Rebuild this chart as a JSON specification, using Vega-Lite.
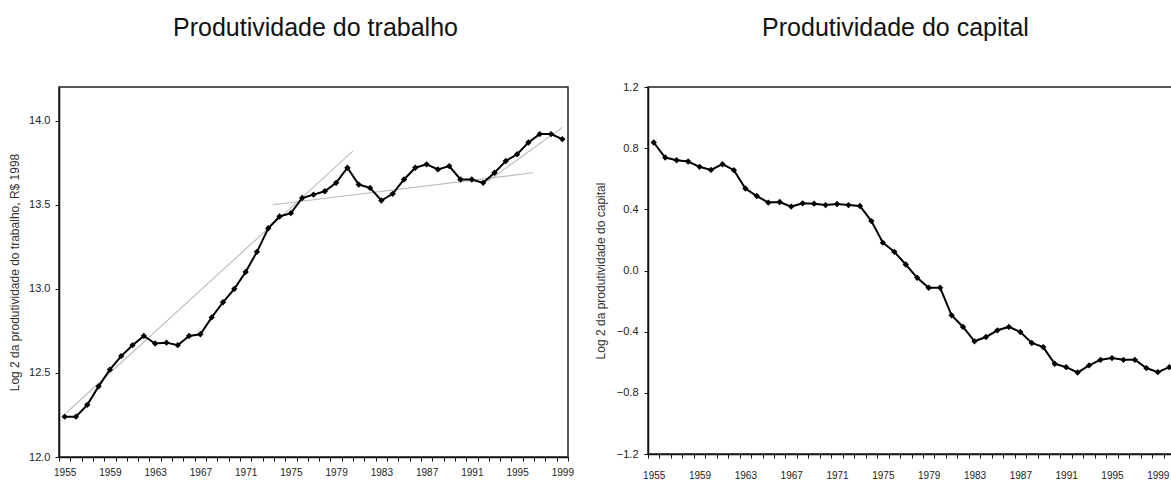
{
  "$schema": "https://vega.github.io/schema/vega-lite/v6.json",
  "background": "white",
  "padding": {"left": 7, "top": 15, "right": 0, "bottom": 0},
  "spacing": 18,
  "config": {
    "view": {"stroke": "#222", "strokeWidth": 1.5},
    "font": "Liberation Sans",
    "axis": {
      "grid": false,
      "domainColor": "#111",
      "domainWidth": 1.5,
      "tickColor": "#111",
      "tickSize": 4,
      "tickWidth": 1,
      "labelFont": "Liberation Sans",
      "labelColor": "#222",
      "labelFontSize": 10,
      "titleFont": "Liberation Sans",
      "titleFontWeight": "normal",
      "titleColor": "#333",
      "titleFontSize": 12
    },
    "title": {"font": "Liberation Sans", "fontSize": 25, "fontWeight": "normal", "color": "#111"}
  },
  "datasets": {
    "trab": [
      {"ano": 1955, "v": 12.24}, {"ano": 1956, "v": 12.24}, {"ano": 1957, "v": 12.31}, {"ano": 1958, "v": 12.42},
      {"ano": 1959, "v": 12.52}, {"ano": 1960, "v": 12.6}, {"ano": 1961, "v": 12.665}, {"ano": 1962, "v": 12.72},
      {"ano": 1963, "v": 12.675}, {"ano": 1964, "v": 12.68}, {"ano": 1965, "v": 12.665}, {"ano": 1966, "v": 12.72},
      {"ano": 1967, "v": 12.73}, {"ano": 1968, "v": 12.83}, {"ano": 1969, "v": 12.92}, {"ano": 1970, "v": 13.0},
      {"ano": 1971, "v": 13.1}, {"ano": 1972, "v": 13.22}, {"ano": 1973, "v": 13.36}, {"ano": 1974, "v": 13.43},
      {"ano": 1975, "v": 13.45}, {"ano": 1976, "v": 13.54}, {"ano": 1977, "v": 13.56}, {"ano": 1978, "v": 13.58},
      {"ano": 1979, "v": 13.63}, {"ano": 1980, "v": 13.72}, {"ano": 1981, "v": 13.62}, {"ano": 1982, "v": 13.6},
      {"ano": 1983, "v": 13.525}, {"ano": 1984, "v": 13.565}, {"ano": 1985, "v": 13.65}, {"ano": 1986, "v": 13.72},
      {"ano": 1987, "v": 13.74}, {"ano": 1988, "v": 13.71}, {"ano": 1989, "v": 13.73}, {"ano": 1990, "v": 13.65},
      {"ano": 1991, "v": 13.65}, {"ano": 1992, "v": 13.63}, {"ano": 1993, "v": 13.69}, {"ano": 1994, "v": 13.76},
      {"ano": 1995, "v": 13.8}, {"ano": 1996, "v": 13.87}, {"ano": 1997, "v": 13.92}, {"ano": 1998, "v": 13.92},
      {"ano": 1999, "v": 13.89}
    ],
    "tend": [
      {"seg": "a", "ano": 1955.1, "v": 12.26}, {"seg": "a", "ano": 1980.5, "v": 13.82},
      {"seg": "b", "ano": 1973.4, "v": 13.5}, {"seg": "b", "ano": 1996.4, "v": 13.69},
      {"seg": "c", "ano": 1992.4, "v": 13.64}, {"seg": "c", "ano": 1999.0, "v": 13.96}
    ],
    "cap": [
      {"ano": 1955, "v": 0.837}, {"ano": 1956, "v": 0.739}, {"ano": 1957, "v": 0.721}, {"ano": 1958, "v": 0.713},
      {"ano": 1959, "v": 0.678}, {"ano": 1960, "v": 0.658}, {"ano": 1961, "v": 0.695}, {"ano": 1962, "v": 0.656},
      {"ano": 1963, "v": 0.536}, {"ano": 1964, "v": 0.487}, {"ano": 1965, "v": 0.444}, {"ano": 1966, "v": 0.448},
      {"ano": 1967, "v": 0.418}, {"ano": 1968, "v": 0.439}, {"ano": 1969, "v": 0.437}, {"ano": 1970, "v": 0.428},
      {"ano": 1971, "v": 0.435}, {"ano": 1972, "v": 0.428}, {"ano": 1973, "v": 0.422}, {"ano": 1974, "v": 0.323},
      {"ano": 1975, "v": 0.182}, {"ano": 1976, "v": 0.122}, {"ano": 1977, "v": 0.039}, {"ano": 1978, "v": -0.048},
      {"ano": 1979, "v": -0.113}, {"ano": 1980, "v": -0.113}, {"ano": 1981, "v": -0.293}, {"ano": 1982, "v": -0.369},
      {"ano": 1983, "v": -0.463}, {"ano": 1984, "v": -0.435}, {"ano": 1985, "v": -0.391}, {"ano": 1986, "v": -0.369},
      {"ano": 1987, "v": -0.402}, {"ano": 1988, "v": -0.474}, {"ano": 1989, "v": -0.501}, {"ano": 1990, "v": -0.61},
      {"ano": 1991, "v": -0.632}, {"ano": 1992, "v": -0.667}, {"ano": 1993, "v": -0.621}, {"ano": 1994, "v": -0.584},
      {"ano": 1995, "v": -0.573}, {"ano": 1996, "v": -0.584}, {"ano": 1997, "v": -0.584}, {"ano": 1998, "v": -0.638},
      {"ano": 1999, "v": -0.665}, {"ano": 2000, "v": -0.632}
    ]
  },
  "hconcat": [
    {
      "width": 509,
      "height": 370,
      "title": {"text": "Produtividade do trabalho", "offset": 46, "dx": 2},
      "encoding": {
        "x": {
          "field": "ano", "type": "quantitative",
          "scale": {"domain": [1954.5, 1999.5], "nice": false, "zero": false},
          "axis": {
            "title": null,
            "values": [1954.5, 1955.5, 1956.5, 1957.5, 1958.5, 1959.5, 1960.5, 1961.5, 1962.5, 1963.5, 1964.5, 1965.5, 1966.5, 1967.5, 1968.5, 1969.5, 1970.5, 1971.5, 1972.5, 1973.5, 1974.5, 1975.5, 1976.5, 1977.5, 1978.5, 1979.5, 1980.5, 1981.5, 1982.5, 1983.5, 1984.5, 1985.5, 1986.5, 1987.5, 1988.5, 1989.5, 1990.5, 1991.5, 1992.5, 1993.5, 1994.5, 1995.5, 1996.5, 1997.5, 1998.5, 1999.5],
            "labelExpr": "(datum.value - 1954.5) % 4 == 0 && datum.value < 1999 ? format(datum.value + 0.5, 'd') : ''",
            "labelOffset": 5.65,
            "labelOverlap": false,
            "labelFlush": false,
            "labelPadding": 6
          }
        },
        "y": {
          "field": "v", "type": "quantitative",
          "scale": {"domain": [12.0, 14.2], "nice": false, "zero": false},
          "axis": {
            "title": "Log 2 da produtividade do trabalho, R$ 1998",
            "values": [12.0, 12.5, 13.0, 13.5, 14.0],
            "format": ".1f",
            "labelFontSize": 11,
            "labelPadding": 5,
            "titlePadding": 7
          }
        }
      },
      "layer": [
        {
          "data": {"name": "tend"},
          "mark": {"type": "line", "color": "#bcbcbc", "strokeWidth": 1.1},
          "encoding": {"detail": {"field": "seg"}}
        },
        {
          "data": {"name": "trab"},
          "mark": {"type": "line", "color": "#000", "strokeWidth": 2}
        },
        {
          "data": {"name": "trab"},
          "mark": {"type": "point", "shape": "diamond", "filled": true, "color": "#000", "size": 40, "opacity": 1}
        }
      ]
    },
    {
      "width": 527,
      "height": 367,
      "title": {"text": "Produtividade do capital", "offset": 40, "dx": -16},
      "encoding": {
        "x": {
          "field": "ano", "type": "quantitative",
          "scale": {"domain": [1954.5, 2000.5], "nice": false, "zero": false},
          "axis": {
            "title": null,
            "values": [1954.5, 1955.5, 1956.5, 1957.5, 1958.5, 1959.5, 1960.5, 1961.5, 1962.5, 1963.5, 1964.5, 1965.5, 1966.5, 1967.5, 1968.5, 1969.5, 1970.5, 1971.5, 1972.5, 1973.5, 1974.5, 1975.5, 1976.5, 1977.5, 1978.5, 1979.5, 1980.5, 1981.5, 1982.5, 1983.5, 1984.5, 1985.5, 1986.5, 1987.5, 1988.5, 1989.5, 1990.5, 1991.5, 1992.5, 1993.5, 1994.5, 1995.5, 1996.5, 1997.5, 1998.5, 1999.5, 2000.5],
            "labelExpr": "(datum.value - 1954.5) % 4 == 0 && datum.value < 2000 ? format(datum.value + 0.5, 'd') : ''",
            "labelOffset": 5.72,
            "labelOverlap": false,
            "labelFlush": false,
            "labelPadding": 12
          }
        },
        "y": {
          "field": "v", "type": "quantitative",
          "scale": {"domain": [-1.2, 1.2], "nice": false, "zero": false},
          "axis": {
            "title": "Log 2 da produtividade do capital",
            "values": [-1.2, -0.8, -0.4, 0, 0.4, 0.8, 1.2],
            "format": ".1f",
            "labelFontSize": 11,
            "labelPadding": 6,
            "titlePadding": 9
          }
        }
      },
      "layer": [
        {
          "data": {"name": "cap"},
          "mark": {"type": "line", "color": "#000", "strokeWidth": 2}
        },
        {
          "data": {"name": "cap"},
          "mark": {"type": "point", "shape": "diamond", "filled": true, "color": "#000", "size": 40, "opacity": 1}
        }
      ]
    }
  ]
}
